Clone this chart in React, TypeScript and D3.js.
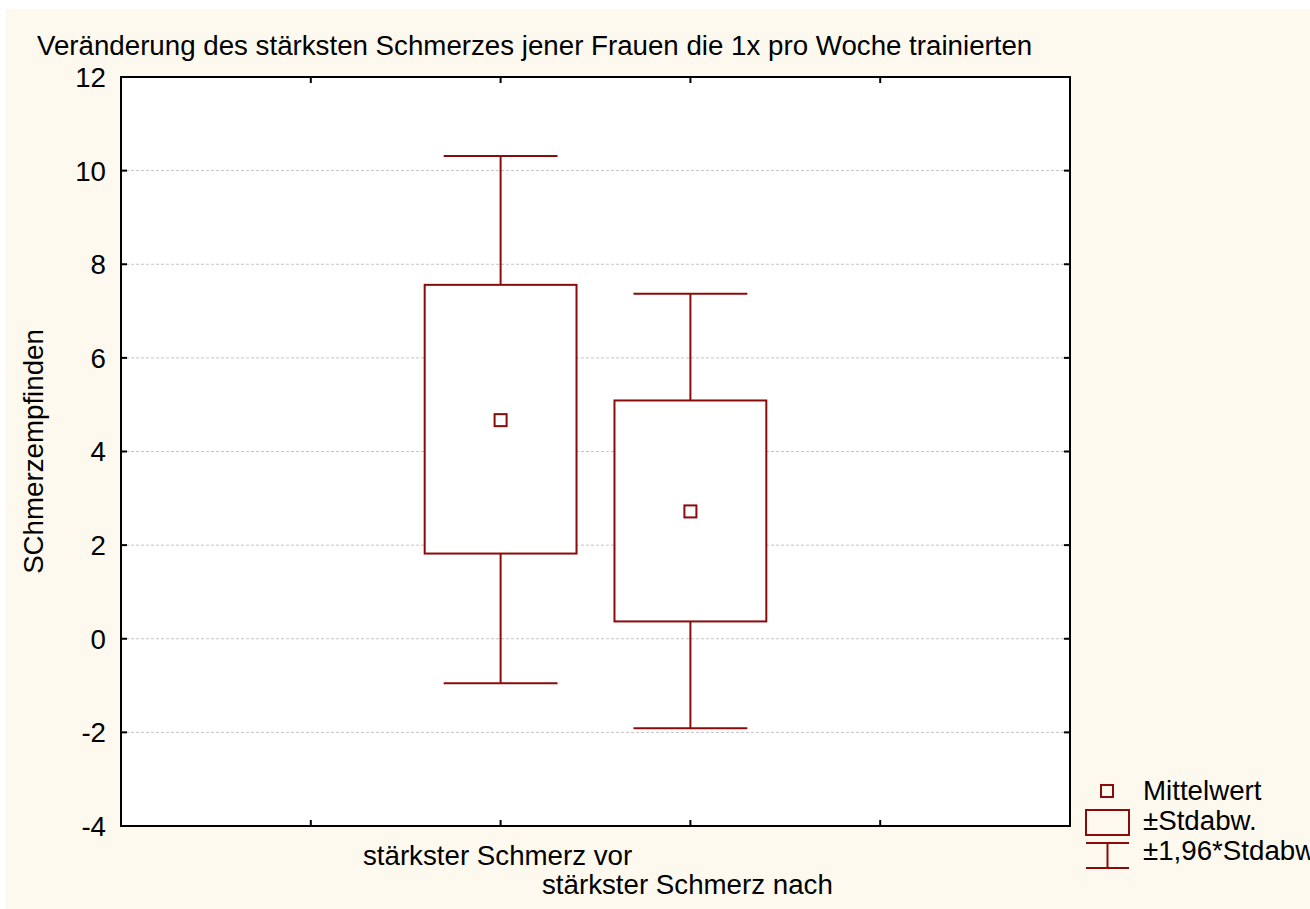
import React from "react";
import * as d3 from "d3";

const categories = ["stärkster Schmerz vor", "stärkster Schmerz nach"];
const means = [4.67, 2.72];
const sdLow = [1.82, 0.37];
const sdHigh = [7.56, 5.09];
const ciLow = [-0.95, -1.91];
const ciHigh = [10.31, 7.37];
const yTicks = [-4, -2, 0, 2, 4, 6, 8, 10, 12];
const xTickSlots = [1, 2, 3, 4];
const legendLabels = ["Mittelwert", "±Stdabw.", "±1,96*Stdabw."];
const title = "Veränderung des stärksten Schmerzes jener Frauen die 1x pro Woche trainierten";
const yLabel = "SChmerzempfinden";

const W = 1310, H = 909;
const L = 121, R = 1070, T = 77, B = 826;
const RED = "#8b0a0a";
const FONT = "'Liberation Sans', Arial, Helvetica, sans-serif";
const FS = 27.7;

export default function App() {
  const x = d3.scaleLinear().domain([0, 5]).range([L, R]);
  const y = d3.scaleLinear().domain([-4, 12]).range([B, T]);
  const unit = x(1) - x(0);
  const boxHalf = unit * 0.4;
  const capHalf = unit * 0.3;
  const tick = 6;

  return (
    <svg width={W} height={H} style={{ position: "absolute", left: 0, top: 0 }} fontFamily={FONT}>
      <rect x={0} y={0} width={W} height={H} fill="#ffffff" />
      <rect x={6} y={9} width={W - 6} height={H - 9} fill="#fef9ee" />
      <rect x={L} y={T} width={R - L} height={B - T} fill="#ffffff" />
      {yTicks.filter(t => t > -4 && t < 12).map(t => (
        <line key={"g" + t} x1={L} x2={R} y1={y(t)} y2={y(t)} stroke="#c4c4c4" strokeWidth={1} strokeDasharray="3,2" />
      ))}
      {categories.map((c, i) => {
        const cx = x(i + 2);
        return (
          <g key={c} stroke={RED} strokeWidth={2} fill="none">
            <line x1={cx} x2={cx} y1={y(ciHigh[i])} y2={y(sdHigh[i])} />
            <line x1={cx} x2={cx} y1={y(sdLow[i])} y2={y(ciLow[i])} />
            <line x1={cx - capHalf} x2={cx + capHalf} y1={y(ciHigh[i])} y2={y(ciHigh[i])} />
            <line x1={cx - capHalf} x2={cx + capHalf} y1={y(ciLow[i])} y2={y(ciLow[i])} />
            <rect x={cx - boxHalf} y={y(sdHigh[i])} width={boxHalf * 2} height={y(sdLow[i]) - y(sdHigh[i])} fill="#ffffff" />
            <rect x={cx - 6} y={y(means[i]) - 6} width={12} height={12} fill="#ffffff" />
          </g>
        );
      })}
      <rect x={L} y={T} width={R - L} height={B - T} fill="none" stroke="#000" strokeWidth={2} />
      {yTicks.map(t => (
        <g key={"t" + t} stroke="#000" strokeWidth={2}>
          <line x1={L} x2={L + tick} y1={y(t)} y2={y(t)} />
          <line x1={R - tick} x2={R} y1={y(t)} y2={y(t)} />
        </g>
      ))}
      {xTickSlots.map(s => (
        <g key={"x" + s} stroke="#000" strokeWidth={2}>
          <line x1={x(s)} x2={x(s)} y1={T} y2={T + tick} />
          <line x1={x(s)} x2={x(s)} y1={B} y2={B - tick} />
        </g>
      ))}
      {yTicks.map(t => (
        <text key={"l" + t} x={106} y={y(t)} dy="0.36em" textAnchor="end" fontSize={FS} fill="#000">{t}</text>
      ))}
      {categories.map((c, i) => (
        <text key={"c" + c} x={x(i + 2) - 3} y={i % 2 === 0 ? 865 : 894} textAnchor="middle" fontSize={FS} fill="#000">{c}</text>
      ))}
      <text x={37} y={55} fontSize={FS} fill="#000">{title}</text>
      <text transform={`translate(43,${(T + B) / 2}) rotate(-90)`} textAnchor="middle" fontSize={FS} fill="#000">{yLabel}</text>
      <g stroke={RED} strokeWidth={2} fill="none">
        <rect x={1101} y={785} width={12} height={12} />
        <rect x={1086} y={810} width={43} height={25} />
        <line x1={1086} x2={1129} y1={843} y2={843} />
        <line x1={1086} x2={1129} y1={868} y2={868} />
        <line x1={1107.5} x2={1107.5} y1={843} y2={868} />
      </g>
      {legendLabels.map((l, i) => (
        <text key={l} x={1143} y={800 + i * 30} fontSize={FS} fill="#000">{l}</text>
      ))}
    </svg>
  );
}
